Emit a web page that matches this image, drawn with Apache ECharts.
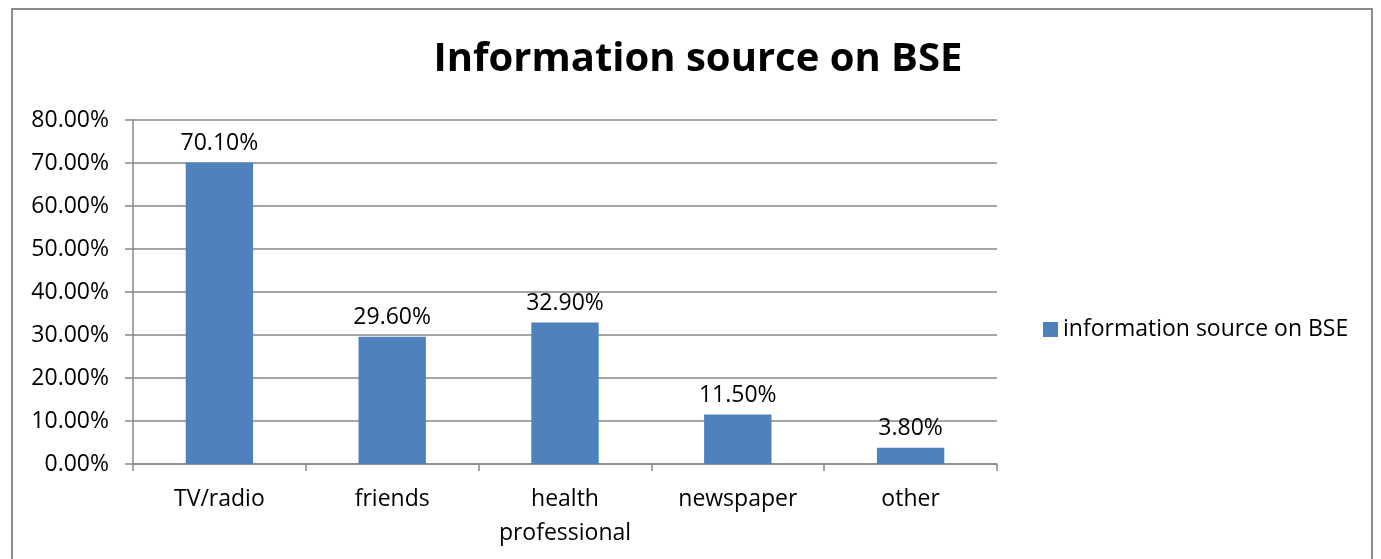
<!DOCTYPE html>
<html><head><meta charset="utf-8">
<script src="https://cdn.jsdelivr.net/npm/echarts@6/dist/echarts.min.js"></script>
<style>html,body{margin:0;padding:0;background:#fff}#frame{position:absolute;left:11px;top:8px;width:1362px;height:560px;border:2px solid #8c8c8c;border-bottom:none;box-sizing:border-box}#c{position:absolute;left:0;top:0;width:1381px;height:559px}</style>
</head><body>
<div id="c"></div><div id="frame"></div>
<script>
const categories = ['TV/radio', 'friends', 'health\nprofessional', 'newspaper', 'other'];
const values = [70.1, 29.6, 32.9, 11.5, 3.8];
const seriesName = 'information source on BSE';
const titleText = 'Information source on BSE';
const yMin = 0, yMax = 80, yInterval = 10;

const font = '"Open Sans", sans-serif';
const chart = echarts.init(document.getElementById('c'));
chart.setOption({
  animation: false,
  title: { text: titleText, left: 693, textAlign: 'center', top: 35,
    textStyle: { fontFamily: font, fontSize: 40, fontWeight: 'bold', color: '#000' } },
  legend: { orient: 'vertical', itemWidth: 15, itemHeight: 15, itemGap: 8,
    left: 1038, top: 313,
    textStyle: { fontFamily: font, fontSize: 23, color: '#000' }, icon: 'rect' },
  grid: { left: 133, right: 384, top: 120, bottom: 95 },
  xAxis: { type: 'category', data: categories,
    axisLine: { lineStyle: { color: '#888', width: 1.5 } },
    axisTick: { show: true, length: 7, lineStyle: { color: '#888', width: 1.5 } },
    axisLabel: { fontFamily: font, fontSize: 23, color: '#000', margin: 18, lineHeight: 34 } },
  yAxis: { type: 'value', min: yMin, max: yMax, interval: yInterval,
    axisLine: { show: true, lineStyle: { color: '#888', width: 1.5 } },
    axisTick: { show: true, length: 8, lineStyle: { color: '#888', width: 1.5 } },
    splitLine: { lineStyle: { color: '#888', width: 1.5 } },
    axisLabel: { fontFamily: font, fontSize: 23, color: '#000', margin: 24,
      formatter: v => v.toFixed(2) + '%' } },
  series: [{ name: seriesName, type: 'bar', data: values, barWidth: '39%',
    itemStyle: { color: '#4f81bd' },
    label: { show: true, position: 'top', distance: 8, fontFamily: font, fontSize: 23, color: '#000',
      formatter: p => p.value.toFixed(2) + '%' } }]
});
</script>
</body></html>
